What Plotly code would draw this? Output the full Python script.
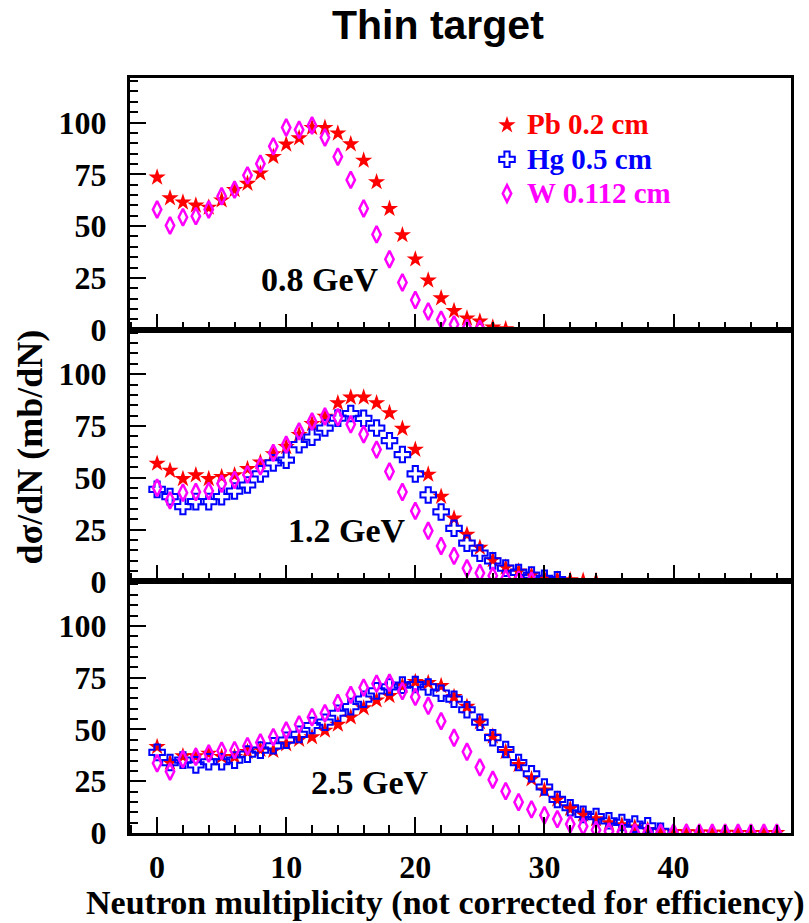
import plotly.graph_objects as go
from plotly.subplots import make_subplots

# ---------------- data ----------------
energies = ["0.8 GeV", "1.2 GeV", "2.5 GeV"]
names = ["Pb 0.2 cm", "Hg 0.5 cm", "W 0.112 cm"]

pb_08 = [73.5, 63.5, 61.5, 60.0, 59.0, 62.5, 67.5, 70.5, 75.5, 83.5, 89.5, 92.5, 97.5, 97.5,
         94.8, 89.6, 81.7, 71.3, 58.4, 45.7, 34.0, 23.8, 15.2, 9.1, 5.5, 4.0, 1.1, 0.3]
w_08 = [58.0, 50.3, 54.3, 54.8, 58.0, 64.4, 67.6, 74.5, 80.1, 88.5, 97.6, 96.5, 98.6, 92.8,
        83.5, 72.3, 58.5, 46.0, 34.0, 22.8, 14.3, 8.8, 4.8, 2.5, 0.8, 0.3]

pb_12 = [56.9, 53.5, 49.5, 51.3, 49.5, 50.5, 51.3, 54.3, 57.5, 61.5, 64.9, 70.8, 76.0, 79.6,
         86.1, 88.8, 88.8, 86.1, 81.3, 73.7, 63.6, 51.6, 40.9, 30.4, 22.6, 16.3, 10.3, 6.7,
         4.8, 3.0, 1.6, 1.0, 0.6, 0.3, 0.2]
hg_12 = [44.4, 40.9, 36.1, 38.5, 38.5, 40.9, 43.6, 46.5, 51.9, 57.2, 58.5, 66.0, 69.6, 74.0,
         78.8, 81.0, 78.7, 74.0, 67.9, 61.2, 51.9, 41.7, 33.5, 25.6, 18.4, 13.6, 9.9, 6.4,
         4.3, 3.0, 1.5, 0.8]
w_12 = [45.2, 39.1, 42.8, 43.1, 43.6, 47.1, 48.9, 51.6, 55.6, 62.0, 66.0, 72.4, 77.2, 79.6,
        79.2, 75.8, 71.0, 63.6, 53.0, 43.1, 34.0, 24.4, 17.1, 12.3, 6.3, 4.0, 2.7, 1.5, 0.8, 0.3]

pb_25 = [41.6, 34.0, 37.1, 37.1, 38.4, 36.8, 36.8, 39.2, 40.3, 39.7, 42.9, 45.1, 46.3, 49.5,
         52.4, 55.9, 60.3, 64.1, 66.2, 71.0, 73.0, 72.5, 71.0, 65.7, 61.0, 53.5, 46.7, 39.2,
         32.9, 26.0, 20.6, 16.2, 11.7, 9.0, 6.7, 4.8, 3.8, 2.7, 1.5, 1.0, 0.6, 0.4, 0.3, 0.2,
         0.2, 0.1, 0.1, 0.1, 0.1]
hg_25 = [38.9, 34.0, 35.2, 32.9, 34.4, 34.4, 35.2, 38.1, 40.0, 42.1, 44.8, 47.6, 51.9, 53.5,
         57.8, 61.0, 64.6, 68.6, 70.5, 71.4, 71.7, 70.5, 67.5, 64.6, 59.5, 53.5, 46.0, 40.3,
         34.0, 28.6, 22.2, 16.2, 12.2, 9.0, 7.9, 5.9, 5.1, 4.3, 3.5, 0.8]
w_25 = [33.7, 29.7, 35.6, 36.8, 38.4, 39.7, 40.0, 41.9, 43.7, 46.3, 49.5, 52.4, 55.9, 57.8,
        62.8, 66.7, 70.2, 72.1, 72.5, 68.5, 65.7, 61.4, 54.0, 46.0, 39.2, 31.7, 25.7, 20.2,
        14.9, 11.4, 8.6, 6.7, 4.3, 3.2, 1.5, 0.8, 0.5, 0.3, 0.2, 0.1, 0.1, 0.1, 0.1, 0.1,
        0.1, 0.1, 0.1, 0.1, 0.1]

panels = [
    {"Pb": pb_08, "W": w_08},
    {"Pb": pb_12, "Hg": hg_12, "W": w_12},
    {"Pb": pb_25, "Hg": hg_25, "W": w_25},
]

x_ticks = [0, 10, 20, 30, 40]
y_ticks = [0, 25, 50, 75, 100]

# ---------------- styles ----------------
styles = {
    "Pb": dict(symbol="star", color="#FF0000", size=13, line=dict(width=0), name=names[0]),
    "Hg": dict(symbol="cross-open", color="#0000FF", size=13, line=dict(width=2, color="#0000FF"), name=names[1]),
    "W": dict(symbol="diamond-tall-open", color="#FF00FF", size=12, line=dict(width=2.5, color="#FF00FF"), name=names[2]),
}

SERIF = "Liberation Serif"
fig = make_subplots(rows=3, cols=1, shared_xaxes=True, vertical_spacing=0)

for r, panel in enumerate(panels, start=1):
    for key in ["Pb", "Hg", "W"]:
        if key not in panel:
            continue
        vals = panel[key]
        st = styles[key]
        fig.add_trace(go.Scatter(
            x=list(range(len(vals))), y=vals, mode="markers",
            name="<span style='font-size:29px;color:%s'>%s</span>" % (st["color"], st["name"]),
            showlegend=(r == 2),
            marker=dict(symbol=st["symbol"], color=st["color"], size=st["size"], line=st["line"]),
        ), row=r, col=1)

axis_common = dict(
    showline=True, linewidth=3, linecolor="black", mirror=True,
    ticks="inside", ticklen=16, tickwidth=2, tickcolor="black",
    showgrid=False, zeroline=False,
    tickfont=dict(family=SERIF, size=32, color="black", weight="bold"),
)
for r in range(1, 4):
    fig.update_xaxes(range=[-2.1, 49.1], tickvals=x_ticks,
                     minor=dict(ticks="inside", ticklen=8, tickwidth=2, dtick=2, tick0=0, tickcolor="black"),
                     showticklabels=(r == 3), ticklabelstandoff=4,
                     row=r, col=1, **axis_common)
    fig.update_yaxes(range=[0, 121.5], tickvals=y_ticks,
                     minor=dict(ticks="inside", ticklen=8, tickwidth=2, dtick=5, tick0=0, tickcolor="black"),
                     ticklabelstandoff=14,
                     row=r, col=1, **axis_common)

annotations = []
label_pos = [(0.2874, 0.7325), (0.3283, 0.4013), (0.3631, 0.0675)]
for txt, (ax, ay) in zip(energies, label_pos):
    annotations.append(dict(text=txt, x=ax, y=ay, xref="paper", yref="paper",
                            showarrow=False, xanchor="center", yanchor="middle",
                            font=dict(family=SERIF, size=34, color="black", weight="bold")))
annotations.append(dict(text="Thin target", x=0.466, y=1.070, xref="paper", yref="paper",
                        showarrow=False, xanchor="center", yanchor="middle",
                        font=dict(family="Liberation Sans", size=41, color="black", weight="bold")))
annotations.append(dict(text="dσ/dN (mb/dN)", x=-0.151, y=0.511, xref="paper", yref="paper",
                        showarrow=False, xanchor="center", yanchor="middle", textangle=-90,
                        font=dict(family=SERIF, size=36, color="black", weight="bold")))
annotations.append(dict(text="Neutron multiplicity (not corrected for efficiency)",
                        x=0.4766, y=-0.0927, xref="paper", yref="paper",
                        showarrow=False, xanchor="center", yanchor="middle",
                        font=dict(family=SERIF, size=34, color="black", weight="bold")))

fig.update_layout(
    width=809, height=923,
    margin=dict(l=130, r=18, t=78, b=90),
    paper_bgcolor="white", plot_bgcolor="white",
    showlegend=True,
    legend=dict(x=(487 - 130) / 661, y=(833 - 103) / 755, xanchor="left", yanchor="top",
                font=dict(family=SERIF, size=24, weight="bold"),
                bgcolor="rgba(0,0,0,0)", borderwidth=0, tracegroupgap=0),
    annotations=annotations,
)

fig.write_html("out.html")
